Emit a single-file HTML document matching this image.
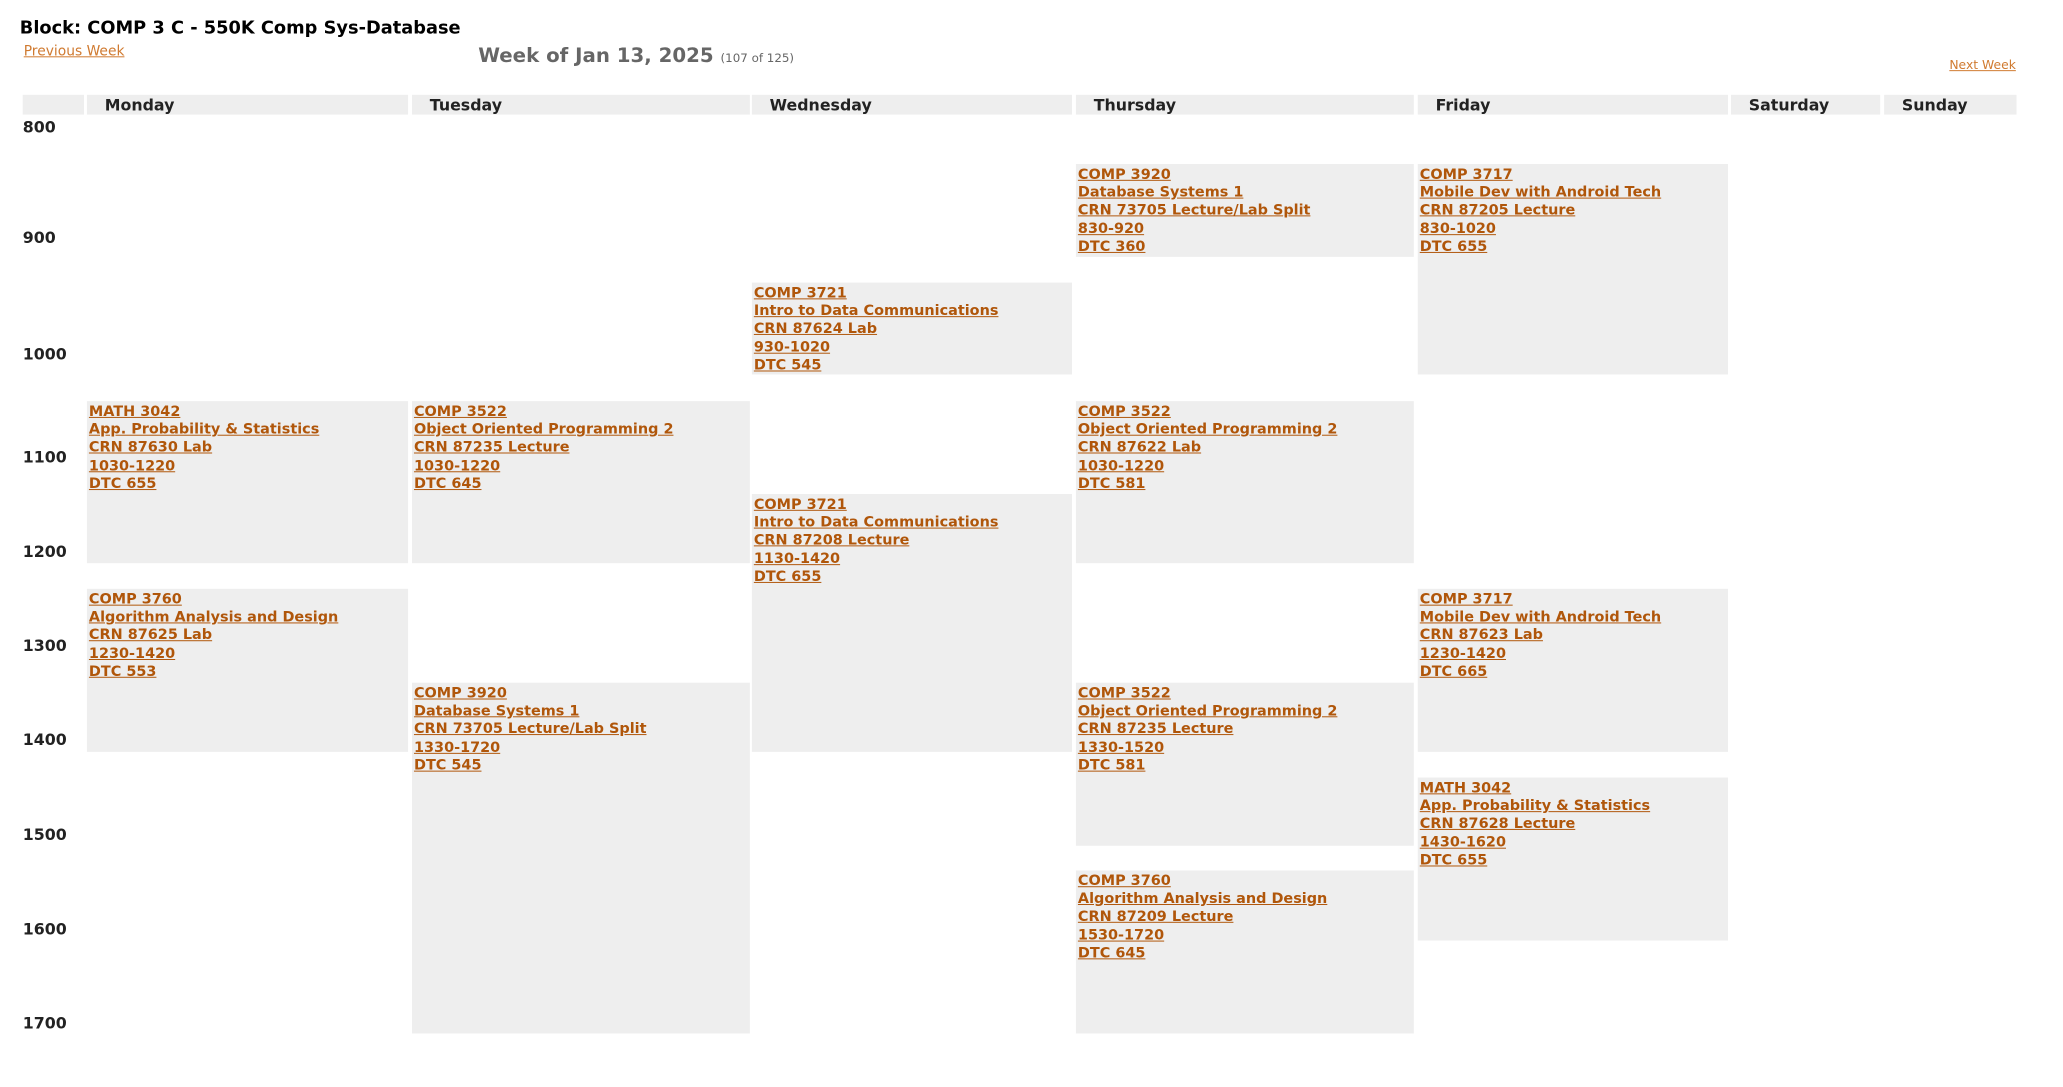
<!DOCTYPE html>
<html><head><meta charset="utf-8"><style>
body{margin:0;width:2063px;height:1068px;background:#fff;position:relative;overflow:hidden;font-family:"DejaVu Sans","Liberation Sans",sans-serif}
#w{position:absolute;left:0;top:0;width:2100px;height:1100px;transform:scale(0.988);transform-origin:0 0}
.a{position:absolute;white-space:nowrap}
.h{position:absolute;top:96px;height:20px;background:#eee;font-weight:bold;font-size:16px;line-height:21px;color:#222;box-sizing:border-box;padding-left:18px;white-space:nowrap}
.t{position:absolute;left:23px;font-weight:bold;font-size:16px;color:#222;line-height:20px;margin-top:-10px}
.b{position:absolute;background:#eee;box-sizing:border-box;padding:2px 0 0 2px;font-weight:bold;font-size:14.6px;line-height:18.2px;color:#b0560a}
.b span{display:block;text-decoration:underline;white-space:nowrap}
</style></head><body><div id="w">
<div class="a" style="left:20px;top:18px;font-weight:bold;font-size:18px;color:#000">Block: COMP 3 C - 550K Comp Sys-Database</div>
<div class="a" style="left:24px;top:44px;font-size:14px;color:#d07a30;text-decoration:underline">Previous Week</div>
<div class="a" style="left:484px;top:44px;font-weight:bold;font-size:20px;color:#666">Week of Jan 13, 2025 <span style="font-weight:normal;font-size:12px">(107 of 125)</span></div>
<div class="a" style="left:1973px;top:58px;font-size:12.5px;color:#d07a30;text-decoration:underline">Next Week</div>

<div class="h" style="left:23px;width:62px"></div>
<div class="h" style="left:88px;width:325px">Monday</div>
<div class="h" style="left:417px;width:342px">Tuesday</div>
<div class="h" style="left:761px;width:324px">Wednesday</div>
<div class="h" style="left:1089px;width:342px">Thursday</div>
<div class="h" style="left:1435px;width:314px">Friday</div>
<div class="h" style="left:1752px;width:151px">Saturday</div>
<div class="h" style="left:1907px;width:134px">Sunday</div>

<div class="t" style="top:129px">800</div>
<div class="t" style="top:241px">900</div>
<div class="t" style="top:359px">1000</div>
<div class="t" style="top:463px">1100</div>
<div class="t" style="top:559px">1200</div>
<div class="t" style="top:654px">1300</div>
<div class="t" style="top:749px">1400</div>
<div class="t" style="top:845px">1500</div>
<div class="t" style="top:941px">1600</div>
<div class="t" style="top:1036px">1700</div>

<div class="b" style="left:1089px;width:342px;top:166px;height:94px"><span>COMP 3920</span><span>Database Systems 1</span><span>CRN 73705 Lecture/Lab Split</span><span>830-920</span><span>DTC 360</span></div>
<div class="b" style="left:1435px;width:314px;top:166px;height:213px"><span>COMP 3717</span><span>Mobile Dev with Android Tech</span><span>CRN 87205 Lecture</span><span>830-1020</span><span>DTC 655</span></div>
<div class="b" style="left:761px;width:324px;top:286px;height:93px"><span>COMP 3721</span><span>Intro to Data Communications</span><span>CRN 87624 Lab</span><span>930-1020</span><span>DTC 545</span></div>
<div class="b" style="left:88px;width:325px;top:406px;height:164px"><span>MATH 3042</span><span>App. Probability &amp; Statistics</span><span>CRN 87630 Lab</span><span>1030-1220</span><span>DTC 655</span></div>
<div class="b" style="left:417px;width:342px;top:406px;height:164px"><span>COMP 3522</span><span>Object Oriented Programming 2</span><span>CRN 87235 Lecture</span><span>1030-1220</span><span>DTC 645</span></div>
<div class="b" style="left:1089px;width:342px;top:406px;height:164px"><span>COMP 3522</span><span>Object Oriented Programming 2</span><span>CRN 87622 Lab</span><span>1030-1220</span><span>DTC 581</span></div>
<div class="b" style="left:761px;width:324px;top:500px;height:261px"><span>COMP 3721</span><span>Intro to Data Communications</span><span>CRN 87208 Lecture</span><span>1130-1420</span><span>DTC 655</span></div>
<div class="b" style="left:88px;width:325px;top:596px;height:165px"><span>COMP 3760</span><span>Algorithm Analysis and Design</span><span>CRN 87625 Lab</span><span>1230-1420</span><span>DTC 553</span></div>
<div class="b" style="left:1435px;width:314px;top:596px;height:165px"><span>COMP 3717</span><span>Mobile Dev with Android Tech</span><span>CRN 87623 Lab</span><span>1230-1420</span><span>DTC 665</span></div>
<div class="b" style="left:417px;width:342px;top:691px;height:355px"><span>COMP 3920</span><span>Database Systems 1</span><span>CRN 73705 Lecture/Lab Split</span><span>1330-1720</span><span>DTC 545</span></div>
<div class="b" style="left:1089px;width:342px;top:691px;height:165px"><span>COMP 3522</span><span>Object Oriented Programming 2</span><span>CRN 87235 Lecture</span><span>1330-1520</span><span>DTC 581</span></div>
<div class="b" style="left:1435px;width:314px;top:787px;height:165px"><span>MATH 3042</span><span>App. Probability &amp; Statistics</span><span>CRN 87628 Lecture</span><span>1430-1620</span><span>DTC 655</span></div>
<div class="b" style="left:1089px;width:342px;top:881px;height:165px"><span>COMP 3760</span><span>Algorithm Analysis and Design</span><span>CRN 87209 Lecture</span><span>1530-1720</span><span>DTC 645</span></div>
</div></body></html>
